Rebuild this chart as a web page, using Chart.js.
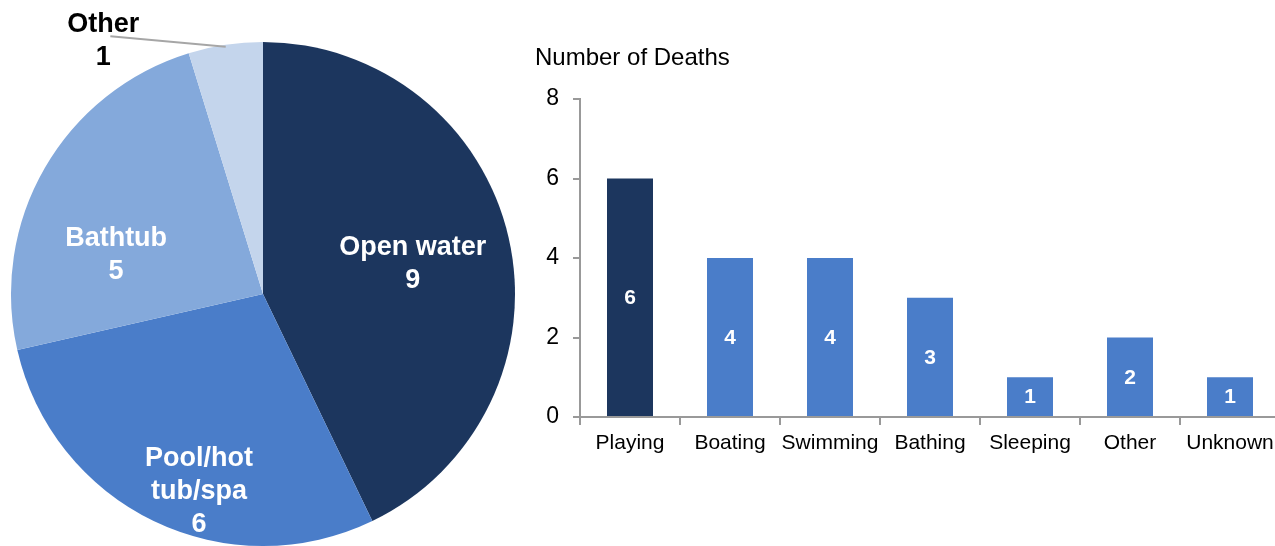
<!DOCTYPE html>
<html>
<head>
<meta charset="utf-8">
<script src="https://cdn.jsdelivr.net/npm/chart.js@4"></script>
<style>
  html, body { margin: 0; padding: 0; background: #fff; overflow: hidden; width: 1275px; height: 546px; }
  .box { position: absolute; top: 0; }
</style>
</head>
<body>
<div class="box" style="left:0"><canvas id="pieChart" width="530" height="546"></canvas></div>
<div class="box" style="left:500px"><canvas id="barChart" width="785" height="546"></canvas></div>
<script>
// pie: place of death
const placeNames = ['Open water', 'Pool/hot tub/spa', 'Bathtub', 'Other'];
const placeLines = [['Open water'], ['Pool/hot', 'tub/spa'], ['Bathtub'], ['Other']];
const placeDeaths = [9, 6, 5, 1];
const placeColors = ['#1c365e', '#4a7dc9', '#84a9db', '#c4d5ec'];

// bar: activity at time of death
const activities = ['Playing', 'Boating', 'Swimming', 'Bathing', 'Sleeping', 'Other', 'Unknown'];
const activityDeaths = [6, 4, 4, 3, 1, 2, 1];
const yTicks = [0, 2, 4, 6, 8];

const FONT = '"Liberation Sans", Arial, sans-serif';

// label placement: radius fraction and angle shift (deg) from slice middle
const labelFrac = [0.607, 0.82, 0.604, 1.19];
const labelShift = [1.2, -7.7, -14.8, -23.6];

const pieLabels = {
    id: 'pieLabels',
    afterDraw(chart) {
        const ctx = chart.ctx;
        const arcs = chart.getDatasetMeta(0).data;
        ctx.save();
        ctx.font = 'bold 27px ' + FONT;
        ctx.textAlign = 'center';
        ctx.textBaseline = 'middle';
        arcs.forEach((arc, i) => {
            const mid = (arc.startAngle + arc.endAngle) / 2;
            const a = mid + labelShift[i] * Math.PI / 180;
            const r = arc.outerRadius * labelFrac[i];
            const x = arc.x + Math.cos(a) * r;
            const y = arc.y + Math.sin(a) * r;
            const lines = placeLines[i].concat([String(placeDeaths[i])]);
            const lh = 33;
            const outside = labelFrac[i] > 1;
            if (outside) {
                // leader line from slice edge to the label
                ctx.strokeStyle = '#a6a6a6';
                ctx.lineWidth = 2;
                ctx.beginPath();
                ctx.moveTo(arc.x + Math.cos(mid) * (arc.outerRadius - 2), arc.y + Math.sin(mid) * (arc.outerRadius - 2));
                ctx.lineTo(x + 7, y - 4);
                ctx.stroke();
            }
            ctx.fillStyle = outside ? '#000' : '#fff';
            lines.forEach((t, k) => {
                ctx.fillText(t, x, y + 1 + (k - (lines.length - 1) / 2) * lh);
            });
        });
        ctx.restore();
    }
};

new Chart(document.getElementById('pieChart').getContext('2d'), {
    type: 'pie',
    data: {
        labels: placeNames,
        datasets: [{
            data: placeDeaths,
            backgroundColor: placeColors,
            borderWidth: 0,
        }],
    },
    options: {
        responsive: false,
        animation: false,
        layout: { padding: { left: 11, right: 15, top: 42, bottom: 0 } },
        plugins: { legend: { display: false }, tooltip: { enabled: false } },
    },
    plugins: [pieLabels],
});

const barLabels = {
    id: 'barLabels',
    afterDatasetsDraw(chart) {
        const ctx = chart.ctx;
        const bars = chart.getDatasetMeta(0).data;
        ctx.save();
        ctx.font = 'bold 21px ' + FONT;
        ctx.fillStyle = '#fff';
        ctx.textAlign = 'center';
        ctx.textBaseline = 'middle';
        bars.forEach((bar, i) => {
            ctx.fillText(String(activityDeaths[i]), bar.x, (bar.y + bar.base) / 2 + 1);
        });
        // axis title, horizontal above the axis
        const area = chart.chartArea;
        ctx.font = '24px ' + FONT;
        ctx.fillStyle = '#000';
        ctx.textAlign = 'left';
        ctx.fillText('Number of Deaths', area.left - 45, area.top - 41);
        ctx.restore();
    }
};

new Chart(document.getElementById('barChart').getContext('2d'), {
    type: 'bar',
    data: {
        labels: activities,
        datasets: [{
            data: activityDeaths,
            backgroundColor: activities.map((a, i) => i === 0 ? '#1c365e' : '#4a7dc9'),
            barPercentage: 0.46,
            categoryPercentage: 1,
        }],
    },
    options: {
        responsive: false,
        animation: false,
        layout: { padding: { left: 0, right: 5, top: 99, bottom: 0 } },
        plugins: { legend: { display: false }, tooltip: { enabled: false } },
        scales: {
            x: {
                afterFit(scale) { scale.height = 129; },
                grid: { drawOnChartArea: false, drawTicks: true, tickLength: 8, color: '#999', lineWidth: 2 },
                border: { color: '#999', width: 2 },
                ticks: { color: '#000', font: { family: FONT, size: 21 }, padding: 6, maxRotation: 0, autoSkip: false },
            },
            y: {
                min: 0,
                max: 8,
                afterFit(scale) { scale.width = 80; },
                afterBuildTicks(scale) { scale.ticks = yTicks.map(v => ({ value: v })); },
                grid: { drawOnChartArea: false, drawTicks: true, tickLength: 7, color: '#999', lineWidth: 2 },
                border: { color: '#999', width: 2 },
                ticks: { color: '#000', font: { family: FONT, size: 23 }, padding: 14 },
            },
        },
    },
    plugins: [barLabels],
});
</script>
</body>
</html>
